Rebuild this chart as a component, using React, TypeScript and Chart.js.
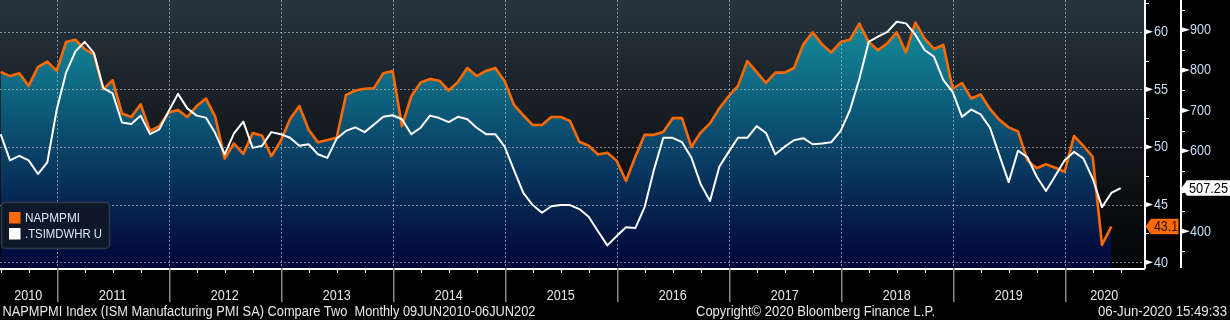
import React, { useEffect, useRef } from "react";
import { Chart, registerables } from "chart.js";

Chart.register(...registerables);

// ---------- data (monthly, first point = June 2010, plotted at month end) ----------
const FIRST_MONTH = 6; // June 2010 -> month-end position = 6 months after Jan 2010 start
const napmpmiName = "NAPMPMI";
const whrName = ".TSIMDWHR U";

const napmpmi = [
  56.5, 56.15, 56.4, 55.3, 56.95, 57.4, 56.6,
  59.1, 59.3, 58.5, 58.0, 55.0, 55.8, 52.9, 52.6, 53.7, 51.4, 51.8, 53.0,
  53.2, 52.6, 53.55, 54.2, 52.6, 49.0, 50.3, 49.4, 51.2, 51.0, 49.2, 50.5,
  52.4, 53.55, 51.5, 50.4, 50.6, 50.8, 54.5, 54.9, 55.05, 55.1, 56.4, 56.6,
  51.8, 54.4, 55.6, 55.9, 55.75, 54.9, 55.65, 56.85, 56.15, 56.6, 56.85, 55.7,
  53.65, 52.75, 51.9, 51.9, 52.6, 52.6, 52.25, 50.45, 50.1, 49.35, 49.5, 48.8,
  47.05, 49.15, 51.05, 51.05, 51.3, 52.5, 52.5, 50.0, 51.25, 52.05, 53.35, 54.4,
  55.3, 57.45, 56.5, 55.55, 56.45, 56.45, 56.85, 58.9, 59.95, 58.9, 58.2, 59.1,
  59.3, 60.7, 59.1, 58.4, 59.0, 59.95, 58.2, 60.8, 59.4, 58.5, 58.85, 55.05,
  55.55, 54.2, 54.55, 53.3, 52.35, 51.7, 51.35, 48.85, 48.15, 48.5, 48.2, 47.85,
  50.95, 50.1, 49.15, 41.5, 43.1,
];

const whr = [
  641, 576, 587, 576, 542, 571, 701,
  793, 846, 870, 842, 755, 742, 670, 666, 687, 641, 653, 698,
  741, 705, 687, 682, 643, 591, 643, 672, 607, 612, 646, 641,
  632, 612, 616, 591, 582, 630, 649, 658, 646, 665, 684, 688,
  678, 641, 657, 687, 681, 671, 684, 678, 657, 641, 641, 610,
  552, 495, 465, 446, 462, 465, 465, 455, 436, 400, 365, 388,
  410, 408, 460, 553, 632, 632, 621, 583, 517, 475, 560, 597,
  632, 632, 661, 644, 591, 610, 626, 631, 616, 618, 621, 649,
  701, 778, 870, 883, 895, 920, 916, 888, 850, 833, 775, 746,
  684, 702, 690, 657, 589, 522, 600, 584, 536, 500, 538, 576,
  597, 581, 531, 460, 495, 507.25,
];

const leftTicks = [40, 45, 50, 55, 60];
const leftMinor = [42.5, 47.5, 52.5, 57.5, 62.5];
const rightTicks = [400, 500, 600, 700, 800, 900];
const rightMinor = [350, 450, 550, 650, 750, 850, 950];
const yearLabels = ["2010", "2011", "2012", "2013", "2014", "2015", "2016", "2017", "2018", "2019", "2020"];

const footerLeft = "NAPMPMI Index (ISM Manufacturing PMI SA) Compare Two  Monthly 09JUN2010-06JUN202";
const footerMid = "Copyright\u00A9 2020 Bloomberg Finance L.P.";
const footerRight = "06-Jun-2020 15:49:33";

// ---------- look ----------
const ORANGE = "#ff6a00";
const AXIS_TXT = "#c4dcf6";
const TXT = "#e4e8ec";
const FONT = '"Liberation Sans", Arial, sans-serif';

const W = 1230;
const H = 320;
const PLOT_RIGHT = 1144;
const PLOT_BOTTOM = 268;

function fillGradient(ctx: any) {
  const chart = ctx.chart;
  const ca = chart.chartArea;
  if (!ca) return "rgba(16,120,140,0.8)";
  const g = chart.ctx.createLinearGradient(0, ca.top, 0, ca.bottom);
  g.addColorStop(0, "#1597a4");
  g.addColorStop(0.3, "#0f6c84");
  g.addColorStop(0.55, "#0a4468");
  g.addColorStop(0.8, "#05204d");
  g.addColorStop(1, "#010538");
  return g;
}

const bbgPlugin = {
  id: "bbg",
  beforeDraw(chart: any) {
    const { ctx, chartArea: ca } = chart;
    ctx.save();
    ctx.fillStyle = "#000";
    ctx.fillRect(0, 0, chart.width, chart.height);
    const g = ctx.createLinearGradient(0, ca.top, 0, ca.bottom);
    g.addColorStop(0, "#26343e");
    g.addColorStop(0.45, "#171c21");
    g.addColorStop(1, "#020304");
    ctx.fillStyle = g;
    ctx.fillRect(ca.left, ca.top, ca.right - ca.left, ca.bottom - ca.top);
    ctx.restore();
  },
  afterDatasetDraw(chart: any, args: any) {
    if (args.index !== 2) return;
    const { ctx, chartArea: ca, scales } = chart;
    ctx.save();
    ctx.strokeStyle = "rgba(175,185,195,0.7)";
    ctx.lineWidth = 1;
    ctx.setLineDash([2, 2]);
    for (const t of leftTicks) {
      const y = Math.round(scales.y.getPixelForValue(t)) + 0.5;
      ctx.beginPath();
      ctx.moveTo(ca.left, y);
      ctx.lineTo(ca.right, y);
      ctx.stroke();
    }
    for (let m = 12; m < scales.x.max; m += 12) {
      const x = Math.round(scales.x.getPixelForValue(m)) + 0.5;
      ctx.beginPath();
      ctx.moveTo(x, ca.top);
      ctx.lineTo(x, ca.bottom);
      ctx.stroke();
    }
    ctx.restore();
  },
  afterDraw(chart: any) {
    const { ctx, chartArea: ca, scales } = chart;
    const xs = scales.x, ys = scales.y, y2 = scales.y2;
    ctx.save();
    ctx.setLineDash([]);

    // bottom axis line and left value axis line
    ctx.fillStyle = "#ffffff";
    ctx.fillRect(0, PLOT_BOTTOM, PLOT_RIGHT + 1, 2);
    ctx.fillRect(PLOT_RIGHT, 0, 2, PLOT_BOTTOM + 1);
    // second axis line
    const AX2 = 1180;
    ctx.fillRect(AX2, 0, 2, PLOT_BOTTOM);

    // quarter ticks
    for (let m = 0; m <= xs.max; m += 3) {
      if (m < xs.min) continue;
      const x = Math.round(xs.getPixelForValue(m));
      ctx.fillStyle = "#ffffff";
      ctx.fillRect(x, PLOT_BOTTOM, 1, 5);
    }
    // year separators
    ctx.fillStyle = "#8a8a8a";
    for (let m = 12; m < xs.max; m += 12) {
      const x = Math.round(xs.getPixelForValue(m));
      ctx.fillRect(x, PLOT_BOTTOM, 1.5, 34);
    }
    // year labels
    ctx.font = `14px ${FONT}`;
    ctx.fillStyle = TXT;
    ctx.textAlign = "center";
    ctx.textBaseline = "alphabetic";
    yearLabels.forEach((lab, i) => {
      const a = Math.max(i * 12, xs.min);
      const b = Math.min(i * 12 + 12, xs.max);
      const cx = (xs.getPixelForValue(a) + xs.getPixelForValue(b)) / 2;
      ctx.fillText(lab, cx, 299.5, 28);
    });

    // left axis ticks & labels
    ctx.textAlign = "left";
    ctx.textBaseline = "middle";
    ctx.font = `14px ${FONT}`;
    for (const t of leftMinor) {
      const y = Math.round(ys.getPixelForValue(t));
      ctx.fillStyle = "#ffffff";
      ctx.fillRect(PLOT_RIGHT, y, 5, 1);
    }
    for (const t of leftTicks) {
      const y = ys.getPixelForValue(t);
      ctx.fillStyle = "#ffffff";
      ctx.beginPath();
      ctx.moveTo(PLOT_RIGHT + 1, y - 2.8);
      ctx.lineTo(PLOT_RIGHT + 9, y);
      ctx.lineTo(PLOT_RIGHT + 1, y + 2.8);
      ctx.closePath();
      ctx.fill();
      ctx.fillStyle = AXIS_TXT;
      ctx.fillText(String(t), PLOT_RIGHT + 10, y + 0.5, 14);
    }
    // right axis ticks & labels
    for (const t of rightMinor) {
      const y = Math.round(y2.getPixelForValue(t));
      if (y < 0 || y > PLOT_BOTTOM) continue;
      ctx.fillStyle = "#ffffff";
      ctx.fillRect(AX2, y, 5, 1);
    }
    for (const t of rightTicks) {
      const y = y2.getPixelForValue(t);
      ctx.fillStyle = "#ffffff";
      ctx.beginPath();
      ctx.moveTo(AX2 + 1, y - 2.8);
      ctx.lineTo(AX2 + 10, y);
      ctx.lineTo(AX2 + 1, y + 2.8);
      ctx.closePath();
      ctx.fill();
      ctx.fillStyle = AXIS_TXT;
      ctx.fillText(String(t), AX2 + 10, y + 0.5, 21);
    }

    // last value tags
    const lastO = napmpmi[napmpmi.length - 1];
    const yo = ys.getPixelForValue(lastO);
    ctx.fillStyle = ORANGE;
    ctx.beginPath();
    ctx.moveTo(PLOT_RIGHT + 1.5, yo);
    ctx.lineTo(PLOT_RIGHT + 7, yo - 7.8);
    ctx.lineTo(1178.5, yo - 7.8);
    ctx.lineTo(1178.5, yo + 7.8);
    ctx.lineTo(PLOT_RIGHT + 7, yo + 7.8);
    ctx.closePath();
    ctx.fill();
    ctx.fillStyle = "#1a0c02";
    ctx.font = `15px ${FONT}`;
    ctx.fillText(String(lastO), 1154, yo + 0.5, 24);

    const lastW = whr[whr.length - 1];
    const yw = y2.getPixelForValue(lastW);
    ctx.fillStyle = "#ffffff";
    ctx.beginPath();
    ctx.moveTo(AX2 + 1.5, yw);
    ctx.lineTo(AX2 + 7, yw - 7.8);
    ctx.lineTo(W, yw - 7.8);
    ctx.lineTo(W, yw + 7.8);
    ctx.lineTo(AX2 + 7, yw + 7.8);
    ctx.closePath();
    ctx.fill();
    ctx.fillStyle = "#000000";
    ctx.fillText(String(lastW), AX2 + 9, yw + 0.5, 39);

    // legend
    ctx.fillStyle = "#0e1828";
    ctx.strokeStyle = "#2e3b48";
    ctx.lineWidth = 1.5;
    ctx.beginPath();
    ctx.roundRect(1.5, 202.5, 108, 46, 4);
    ctx.fill();
    ctx.stroke();
    ctx.fillStyle = ORANGE;
    ctx.fillRect(9, 212, 11.5, 11.5);
    ctx.fillStyle = "#ffffff";
    ctx.fillRect(9, 228, 11.5, 11.5);
    ctx.fillStyle = "#dce8f6";
    ctx.font = `13px ${FONT}`;
    ctx.textAlign = "left";
    ctx.textBaseline = "middle";
    ctx.fillText(napmpmiName, 25, 218.5, 55);
    ctx.fillText(whrName, 25, 234.5, 77);

    // footer
    ctx.fillStyle = TXT;
    ctx.font = `14px ${FONT}`;
    ctx.textBaseline = "alphabetic";
    ctx.textAlign = "left";
    ctx.fillText(footerLeft, 2.5, 316, 533);
    ctx.fillText(footerMid, 696, 316, 239);
    ctx.textAlign = "right";
    ctx.fillText(footerRight, 1227, 316, 129);

    ctx.restore();
  },
};

export default function App() {
  const ref = useRef<HTMLCanvasElement | null>(null);

  useEffect(() => {
    const canvas = ref.current;
    if (!canvas) return;
    const oPts = napmpmi.map((v, i) => ({ x: FIRST_MONTH + i, y: v }));
    const wPts = whr.map((v, i) => ({ x: FIRST_MONTH + i, y: v }));

    const chart = new Chart(canvas, {
      type: "line",
      data: {
        datasets: [
          {
            label: whrName,
            data: wPts,
            yAxisID: "y2",
            borderColor: "#ffffff",
            borderWidth: 2,
            pointRadius: 0,
            tension: 0,
            fill: false,
            borderJoinStyle: "round",
          },
          {
            label: napmpmiName,
            data: oPts,
            yAxisID: "y",
            borderColor: ORANGE,
            borderWidth: 2.6,
            pointRadius: 0,
            tension: 0,
            fill: false,
            borderJoinStyle: "round",
          },
          {
            label: napmpmiName + " area",
            data: oPts,
            yAxisID: "y",
            borderColor: "rgba(0,0,0,0)",
            borderWidth: 0,
            pointRadius: 0,
            tension: 0,
            fill: "start",
            backgroundColor: fillGradient,
          },
        ],
      },
      options: {
        responsive: false,
        animation: false,
        devicePixelRatio: 1,
        layout: { padding: { left: 0, top: 0, right: W - PLOT_RIGHT, bottom: H - PLOT_BOTTOM } },
        plugins: {
          legend: { display: false },
          tooltip: { enabled: false },
          title: { display: false },
        },
        scales: {
          x: { type: "linear", min: 5.93, max: 128.5, display: false },
          y: { type: "linear", min: 39.5, max: 62.75, display: false },
          y2: { type: "linear", min: 308.8, max: 974, display: false },
        },
      },
      plugins: [bbgPlugin],
    } as any);

    return () => chart.destroy();
  }, []);

  return (
    <div style={{ position: "fixed", left: 0, top: 0, width: W, height: H, background: "#000" }}>
      <canvas ref={ref} width={W} height={H} style={{ display: "block", width: W, height: H }} />
    </div>
  );
}
